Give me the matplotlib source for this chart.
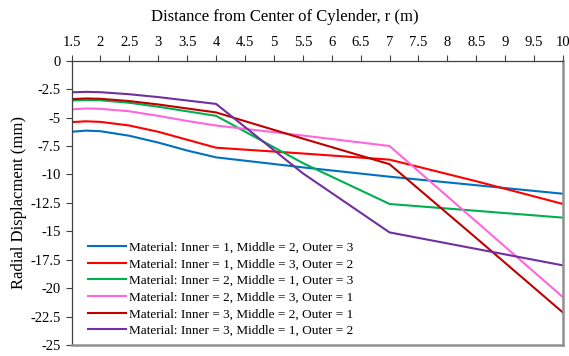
import matplotlib
matplotlib.use("Agg")
import matplotlib.pyplot as plt

plt.rcParams['font.family'] = ['Liberation Serif', 'DejaVu Serif']

# Radial positions (m)
r = [1.5, 1.75, 2.0, 2.5, 3.0, 3.5, 4.0, 5.5, 7.0, 8.5, 10.0]

labels = [
    "Material: Inner = 1, Middle = 2, Outer = 3",
    "Material: Inner = 1, Middle = 3, Outer = 2",
    "Material: Inner = 2, Middle = 1, Outer = 3",
    "Material: Inner = 2, Middle = 3, Outer = 1",
    "Material: Inner = 3, Middle = 2, Outer = 1",
    "Material: Inner = 3, Middle = 1, Outer = 2",
]

# Radial displacement (mm)
u_123 = [-6.25, -6.15, -6.2, -6.6, -7.2, -7.9, -8.5, -9.38, -10.2, -10.95, -11.7]
u_132 = [-5.4, -5.33, -5.38, -5.7, -6.25, -6.95, -7.65, -8.16, -8.7, -10.6, -12.6]
u_213 = [-3.5, -3.45, -3.48, -3.7, -4.05, -4.45, -4.85, -9.0, -12.6, -13.2, -13.8]
u_231 = [-4.28, -4.2, -4.23, -4.45, -4.85, -5.3, -5.7, -6.58, -7.5, -14.15, -20.8]
u_321 = [-3.38, -3.32, -3.35, -3.55, -3.85, -4.2, -4.55, -6.85, -9.1, -15.6, -22.15]
u_312 = [-2.78, -2.74, -2.77, -2.95, -3.2, -3.5, -3.8, -9.9, -15.1, -16.55, -18.0]

series = [u_123, u_132, u_213, u_231, u_321, u_312]
colors = ["#0070C0", "#FF0000", "#00B050", "#FF66DD", "#C00000", "#7030A0"]

x_ticks = [1.5, 2, 2.5, 3, 3.5, 4, 4.5, 5, 5.5, 6, 6.5, 7, 7.5, 8, 8.5, 9, 9.5, 10]
y_ticks = [0, -2.5, -5, -7.5, -10, -12.5, -15, -17.5, -20, -22.5, -25]

fig = plt.figure(figsize=(5.69, 3.56), dpi=100)
ax = fig.add_axes([0.1257, 0.0309, 0.8638, 0.7986])

for vals, c, lab in zip(series, colors, labels):
    ax.plot(r, vals, color=c, lw=1.5, label=lab)

ax.set_xlim(1.5, 10)
ax.set_ylim(-25, 0)
ax.set_xticks(x_ticks)
ax.set_xticklabels([f"{t:g}" for t in x_ticks])
ax.set_yticks(y_ticks)
ax.set_yticklabels([f"{t:g}" for t in y_ticks])
ax.xaxis.tick_top()
ax.tick_params(axis='both', direction='out', length=4, width=0.8,
               color='#404040', labelsize=10.5)
ax.tick_params(axis='y', pad=3.5)
ax.tick_params(axis='x', pad=4.5)

for side in ['left', 'top']:
    ax.spines[side].set_color('#404040')
    ax.spines[side].set_linewidth(0.9)
for side in ['right', 'bottom']:
    ax.spines[side].set_color('#909090')
    ax.spines[side].set_linewidth(1.8)

fig.text(285 / 569, 1 - 17 / 356, "Distance from Center of Cylender, r (m)",
         fontsize=12, ha='center', va='center')
ax.set_ylabel("Radial Displacment (mm)", fontsize=12, labelpad=2.5)

ax.legend(loc='lower left', bbox_to_anchor=(0.0228, 0.01), frameon=False,
          fontsize=9.5, handlelength=2.9, handletextpad=0.2,
          labelspacing=0.33, borderaxespad=0.0)

fig.savefig("out.png", dpi=100)
